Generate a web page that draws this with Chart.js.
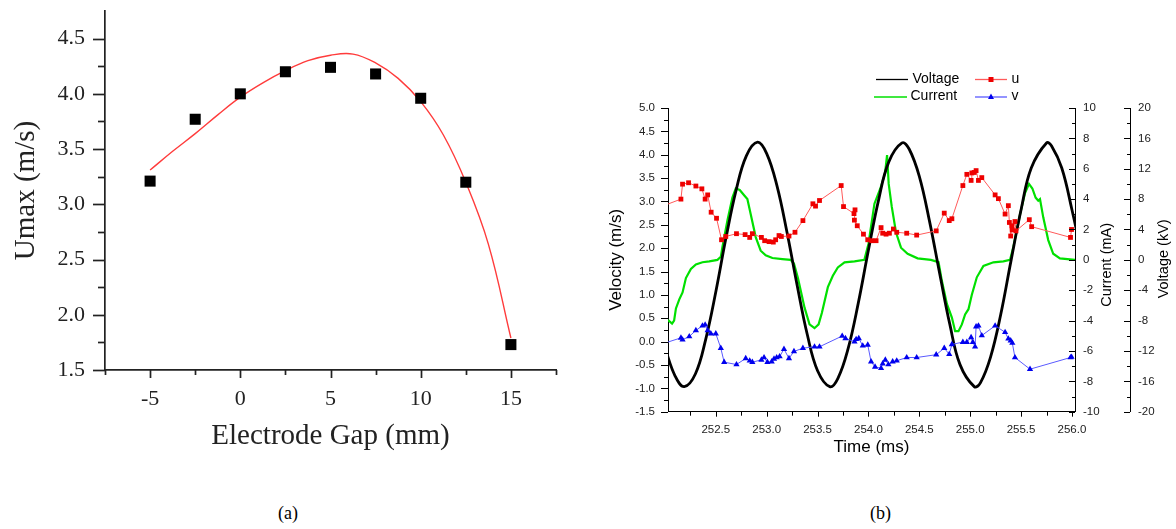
<!DOCTYPE html>
<html>
<head>
<meta charset="utf-8">
<title>Electrode gap and plasma actuator velocity</title>
<script src="https://cdn.jsdelivr.net/npm/chart.js@4/dist/chart.umd.min.js"></script>
<style>
  html, body { margin: 0; padding: 0; background: #fff; width: 1176px; height: 529px; overflow: hidden; }
  .panel { position: absolute; }
  #pa { left: 0; top: 0; width: 580px; height: 470px; }
  #pb { left: 600px; top: 60px; width: 576px; height: 400px; }
  .cap { position: absolute; font-family: "Liberation Serif", "Times New Roman", serif; font-size: 18px; color: #000; }
</style>
</head>
<body>
<div class="panel" id="pa"><canvas id="ca"></canvas></div>
<div class="panel" id="pb"><canvas id="cb"></canvas></div>
<div class="cap" style="left:278px; top:503px;">(a)</div>
<div class="cap" style="left:870px; top:503px;">(b)</div>

<script>
// ---------- (a) peak velocity against electrode gap ----------
const GAP_MM = [-5, -2.5, 0, 2.5, 5, 7.5, 10, 12.5, 15];
const UMAX = [3.21, 3.77, 4.00, 4.20, 4.24, 4.18, 3.96, 3.20, 1.73];
// fitted trend line
const FIT_GAP = [-5, -3.75, -2.5, -1.25, 0, 1.25, 2.5, 3.75, 5, 6.25, 7.5, 8.75, 10, 11.25, 12.5, 13.75, 15];
const FIT_UMAX = [3.31, 3.48, 3.64, 3.81, 3.97, 4.10, 4.21, 4.30, 4.35, 4.36, 4.28, 4.14, 3.93, 3.63, 3.20, 2.64, 1.79];
const GAP_TICKS = [-5, 0, 5, 10, 15];
const UMAX_TICKS = [1.5, 2.0, 2.5, 3.0, 3.5, 4.0, 4.5];

// ---------- (b) time traces ----------
const VOLT_T = [252.0, 252.1, 252.19, 252.3, 252.4, 252.5, 252.6, 252.7, 252.8, 252.91, 253.0, 253.1, 253.2, 253.3,
  253.4, 253.5, 253.62, 253.7, 253.8, 253.9, 254.0, 254.1, 254.2, 254.33, 254.4, 254.5, 254.6, 254.7, 254.8, 254.9,
  255.04, 255.1, 255.2, 255.3, 255.4, 255.5, 255.6, 255.75, 255.8, 255.9, 256.0, 256.1];
const VOLT_KV = [-11.6, -15.3, -16.7, -15.0, -10.5, -4.2, 2.9, 9.2, 13.7, 15.5, 14.0, 9.8, 3.6, -3.4,
  -9.9, -14.6, -16.7, -15.6, -11.7, -5.7, 1.3, 7.9, 12.9, 15.4, 14.6, 11.0, 5.1, -1.8, -8.5, -13.8,
  -16.7, -16.2, -12.8, -7.2, -0.2, 6.6, 12.1, 15.4, 15.0, 12.1, 6.6, 0.4];

const CUR_T = [252.0, 252.036, 252.07, 252.09, 252.108, 252.141, 252.173, 252.206, 252.255, 252.304, 252.369, 252.435,
  252.516, 252.549, 252.565, 252.614, 252.663, 252.696, 252.735, 252.778, 252.81, 252.843, 252.892, 252.941, 252.99,
  253.056, 253.154, 253.235, 253.268, 253.307, 253.372, 253.421, 253.47, 253.51, 253.542, 253.601, 253.65, 253.699,
  253.765, 253.863, 253.96, 254.0, 254.059, 254.117, 254.163, 254.183, 254.199, 254.229, 254.271, 254.32, 254.385,
  254.483, 254.614, 254.689, 254.722, 254.771, 254.82, 254.852, 254.885, 254.918, 254.95, 254.983, 255.016, 255.065,
  255.13, 255.228, 255.326, 255.392, 255.424, 255.49, 255.539, 255.578, 255.611, 255.643, 255.669, 255.686, 255.718,
  255.767, 255.816, 255.882, 256.032, 256.1];
const CUR_MA = [-4.0, -4.0, -4.2, -4.0, -3.2, -2.6, -2.15, -1.2, -0.6, -0.3, -0.16, -0.1,
  0.0, 0.2, 0.85, 2.6, 4.1, 4.7, 4.6, 4.25, 4.0, 3.0, 1.5, 0.6, 0.3,
  0.12, 0.05, 0.0, -0.25, -1.2, -3.15, -4.25, -4.5, -4.25, -3.5, -1.8, -1.05, -0.5,
  -0.16, -0.1, 0.0, 1.05, 3.7, 4.7, 5.7, 6.9, 5.0, 3.5, 1.8, 0.8, 0.4,
  0.1, 0.0, -0.15, -1.4, -2.9, -3.8, -4.7, -4.7, -4.25, -3.6, -3.25, -2.3, -1.15,
  -0.4, -0.16, -0.1, 0.0, 0.85, 3.0, 4.4, 5.0, 4.7, 4.1, 3.9, 4.0, 2.8,
  1.3, 0.4, 0.1, 0.0, 0.0];

const U_T = [252.0, 252.157, 252.173, 252.232, 252.304, 252.363, 252.395, 252.42, 252.454, 252.507, 252.556, 252.598,
  252.703, 252.788, 252.833, 252.859, 252.948, 252.98, 253.023, 253.065, 253.088, 253.121, 253.144, 253.219, 253.278,
  253.356, 253.454, 253.48, 253.519, 253.732, 253.755, 253.858, 253.868, 253.862, 253.89, 253.951, 253.993, 254.033,
  254.075, 254.124, 254.14, 254.173, 254.206, 254.245, 254.278, 254.376, 254.474, 254.666, 254.745, 254.794, 254.82,
  254.928, 254.967, 255.009, 255.016, 255.039, 255.058, 255.081, 255.114, 255.245, 255.277, 255.343, 255.375, 255.385,
  255.398, 255.411, 255.414, 255.44, 255.45, 255.581, 255.604, 255.986, 255.996];
const U_MS = [2.92, 3.05, 3.37, 3.40, 3.33, 3.27, 3.05, 3.14, 2.77, 2.64, 2.18, 2.25,
  2.31, 2.29, 2.23, 2.31, 2.23, 2.16, 2.14, 2.13, 2.18, 2.27, 2.25, 2.26, 2.34,
  2.59, 2.95, 2.90, 3.02, 3.34, 2.89, 2.74, 2.82, 2.60, 2.48, 2.30, 2.18, 2.16,
  2.16, 2.44, 2.32, 2.30, 2.32, 2.41, 2.34, 2.32, 2.28, 2.37, 2.75, 2.59, 2.63,
  3.34, 3.58, 3.45, 3.61, 3.62, 3.66, 3.45, 3.51, 3.14, 3.06, 2.73, 2.91, 2.55,
  2.26, 2.48, 2.39, 2.57, 2.37, 2.61, 2.46, 2.23, 2.40];

const V_T = [252.0, 252.157, 252.173, 252.239, 252.304, 252.369, 252.395, 252.42, 252.451, 252.5, 252.549, 252.582,
  252.703, 252.794, 252.833, 252.859, 252.948, 252.974, 253.007, 253.049, 253.072, 253.098, 253.127, 253.17, 253.219,
  253.268, 253.356, 253.47, 253.519, 253.742, 253.774, 253.863, 253.879, 253.905, 253.944, 253.993, 254.026, 254.065,
  254.124, 254.14, 254.166, 254.196, 254.238, 254.278, 254.376, 254.474, 254.666, 254.745, 254.794, 254.82, 254.928,
  254.967, 255.009, 255.026, 255.048, 255.058, 255.081, 255.114, 255.245, 255.343, 255.375, 255.398, 255.414, 255.44,
  255.588, 255.986, 255.996];
const V_MS = [-0.03, 0.08, 0.04, 0.11, 0.24, 0.34, 0.36, 0.24, 0.17, 0.17, -0.14, -0.44,
  -0.49, -0.36, -0.41, -0.44, -0.39, -0.34, -0.44, -0.43, -0.37, -0.34, -0.32, -0.16, -0.36,
  -0.21, -0.14, -0.11, -0.11, 0.12, 0.07, 0.0, 0.05, 0.07, -0.09, -0.07, -0.43, -0.54,
  -0.57, -0.47, -0.39, -0.49, -0.43, -0.41, -0.34, -0.34, -0.28, -0.14, -0.27, -0.06, -0.01,
  -0.01, 0.09, -0.01, -0.11, 0.32, 0.34, 0.13, 0.34, 0.20, 0.06, 0.02, -0.03, -0.34,
  -0.59, -0.34, -0.33];

const TIME_TICKS = [252.5, 253.0, 253.5, 254.0, 254.5, 255.0, 255.5, 256.0];
const VEL_TICKS = [-1.5, -1.0, -0.5, 0.0, 0.5, 1.0, 1.5, 2.0, 2.5, 3.0, 3.5, 4.0, 4.5, 5.0];
const CUR_TICKS = [-10, -8, -6, -4, -2, 0, 2, 4, 6, 8, 10];
const KV_TICKS = [-20, -16, -12, -8, -4, 0, 4, 8, 12, 16, 20];

// ---------- helpers ----------
const pts = (xs, ys) => xs.map((x, i) => ({ x: x, y: ys[i] }));
const steps = (a, b, step) => {
  const out = [];
  for (let k = 0; a + k * step <= b + 1e-9; k++) out.push(+(a + k * step).toFixed(4));
  return out;
};
const fixWidth = w => s => { s.width = w; s.paddingTop = 0; s.paddingBottom = 0; };
const fixHeight = h => s => { s.height = h; s.paddingLeft = 0; s.paddingRight = 0; };
const setTicks = list => s => { s.ticks = list.map(v => ({ value: v })); };

// Draws major/minor tick marks on the given scales; dir -1 = towards smaller pixel
function tickMarksPlugin(marks) {
  return {
    id: 'tickMarks',
    afterDraw(chart) {
      const ctx = chart.ctx;
      ctx.save();
      marks.forEach(m => {
        const s = chart.scales[m.scale];
        ctx.strokeStyle = m.color;
        ctx.lineWidth = m.width;
        const draw = (vals, len) => vals.forEach(v => {
          const p = Math.round(s.getPixelForValue(v)) + 0.5;
          ctx.beginPath();
          if (s.isHorizontal()) {
            ctx.moveTo(p, s.top);
            ctx.lineTo(p, s.top + len * m.dir);
          } else {
            const x0 = s.position === 'left' ? s.right : s.left;
            ctx.moveTo(x0, p);
            ctx.lineTo(x0 + len * m.dir, p);
          }
          ctx.stroke();
        });
        draw(m.major, m.majorLen);
        draw(m.minor, m.minorLen);
      });
      ctx.restore();
    }
  };
}

Chart.defaults.animation = false;
Chart.defaults.responsive = true;
Chart.defaults.maintainAspectRatio = false;
Chart.defaults.plugins.legend.display = false;
Chart.defaults.plugins.tooltip.enabled = false;

const SERIF = '"Liberation Serif", "Times New Roman", serif';
const SANS = '"Liberation Sans", Arial, sans-serif';

// ---------- chart (a) ----------
new Chart(document.getElementById('ca'), {
  type: 'line',
  data: {
    datasets: [
      {
        label: 'Umax',
        data: pts(GAP_MM, UMAX),
        showLine: false,
        pointStyle: 'rect',
        pointRadius: 7.8,
        pointBackgroundColor: '#000',
        pointBorderColor: '#000',
        pointBorderWidth: 0,
        order: 0,
        clip: false
      },
      {
        label: 'Fit',
        data: pts(FIT_GAP, FIT_UMAX),
        borderColor: '#ff3b3b',
        borderWidth: 1.4,
        pointRadius: 0,
        tension: 0.4,
        order: 1,
        clip: false
      }
    ]
  },
  options: {
    layout: { padding: { left: 0, top: 11, right: 24, bottom: 0 } },
    scales: {
      x: {
        type: 'linear', position: 'bottom', min: -7.5, max: 17.5,
        afterFit: fixHeight(100), afterBuildTicks: setTicks(GAP_TICKS),
        grid: { display: false, drawTicks: false },
        border: { display: true, color: '#222', width: 1.7 },
        ticks: { font: { family: SERIF, size: 22 }, color: '#222', padding: 16, maxRotation: 0,
                 callback: v => String(v) },
        title: { display: true, text: 'Electrode Gap (mm)', font: { family: SERIF, size: 29 }, color: '#222',
                 padding: { top: 0, bottom: 16 } }
      },
      y: {
        type: 'linear', position: 'left', min: 1.5, max: 4.75,
        afterFit: fixWidth(105), afterBuildTicks: setTicks(UMAX_TICKS),
        grid: { display: false, drawTicks: false },
        border: { display: true, color: '#222', width: 1.7 },
        ticks: { font: { family: SERIF, size: 22 }, color: '#222', padding: 20,
                 callback: v => v.toFixed(1) },
        title: { display: true, text: 'Umax (m/s)', font: { family: SERIF, size: 29 }, color: '#222',
                 padding: { top: 9, bottom: 0 } }
      }
    }
  },
  plugins: [tickMarksPlugin([
    { scale: 'x', major: GAP_TICKS, minor: [-7.5, -2.5, 2.5, 7.5, 12.5, 17.5], majorLen: 8, minorLen: 5,
      dir: 1, color: '#222', width: 1.7 },
    { scale: 'y', major: UMAX_TICKS, minor: steps(1.75, 4.25, 0.5), majorLen: 12, minorLen: 7,
      dir: -1, color: '#222', width: 1.7 }
  ])]
});

// ---------- chart (b) ----------
const RED = '#ee0000', RED_LINE = '#ff5a5a';
const BLUE = '#0000ee', BLUE_LINE = '#5a5aff';
const GREEN = '#00e000';
const clipLR = { left: 0, right: 0, top: false, bottom: false };
const clipMarks = { left: 0, right: 5, top: false, bottom: false };

// legend drawn as two columns above the plot
const legendB = {
  id: 'legendB',
  afterDraw(chart) {
    const ctx = chart.ctx;
    ctx.save();
    ctx.font = '14px ' + SANS;
    ctx.textBaseline = 'middle';
    const items = [
      { ds: 2, x0: 276, x1: 308, tx: 312.5, y: 19 },
      { ds: 3, x0: 274, x1: 307, tx: 310.5, y: 36.5 },
      { ds: 0, x0: 375, x1: 407, tx: 411.5, y: 19 },
      { ds: 1, x0: 375, x1: 407, tx: 411.5, y: 36.5 }
    ];
    items.forEach(it => {
      const d = chart.data.datasets[it.ds];
      ctx.strokeStyle = d.borderColor;
      ctx.lineWidth = 1.3;
      ctx.beginPath();
      ctx.moveTo(it.x0, it.y + 0.5);
      ctx.lineTo(it.x1, it.y + 0.5);
      ctx.stroke();
      const cx = (it.x0 + it.x1) / 2;
      if (d.pointStyle === 'rect') {
        ctx.fillStyle = d.pointBackgroundColor;
        ctx.fillRect(cx - 2.5, it.y - 2, 5, 5);
      } else if (d.pointStyle === 'triangle') {
        ctx.fillStyle = d.pointBackgroundColor;
        ctx.beginPath();
        ctx.moveTo(cx, it.y - 3);
        ctx.lineTo(cx + 3, it.y + 2.5);
        ctx.lineTo(cx - 3, it.y + 2.5);
        ctx.closePath();
        ctx.fill();
      }
      ctx.fillStyle = '#000';
      ctx.fillText(d.label, it.tx, it.y);
    });
    ctx.restore();
  }
};

// titles of the two right-hand axes, reading upwards
const sideTitles = {
  id: 'sideTitles',
  afterDraw(chart) {
    const ctx = chart.ctx;
    const area = chart.chartArea;
    const mid = (area.top + area.bottom) / 2;
    const put = (text, x, y) => {
      ctx.save();
      ctx.translate(x, y);
      ctx.rotate(-Math.PI / 2);
      ctx.font = '14.5px ' + SANS;
      ctx.fillStyle = '#000';
      ctx.textAlign = 'center';
      ctx.textBaseline = 'middle';
      ctx.fillText(text, 0, 0);
      ctx.restore();
    };
    put('Current (mA)', chart.scales.yCur.left + 31.5, mid + 5);
    put('Voltage (kV)', chart.scales.yV.left + 34, mid - 1);
  }
};

new Chart(document.getElementById('cb'), {
  type: 'line',
  data: {
    datasets: [
      {
        label: 'u', data: pts(U_T, U_MS), yAxisID: 'y',
        borderColor: RED_LINE, borderWidth: 1,
        pointStyle: 'rect', pointRadius: 3.4, pointBackgroundColor: RED, pointBorderColor: RED, pointBorderWidth: 0,
        order: 0, clip: clipMarks
      },
      {
        label: 'v', data: pts(V_T, V_MS), yAxisID: 'y',
        borderColor: BLUE_LINE, borderWidth: 1,
        pointStyle: 'triangle', pointRadius: 3.6, pointBackgroundColor: BLUE, pointBorderColor: BLUE, pointBorderWidth: 0,
        order: 1, clip: clipMarks
      },
      {
        label: 'Voltage', data: pts(VOLT_T, VOLT_KV), yAxisID: 'yV',
        borderColor: '#000', borderWidth: 2.8, pointRadius: 0, tension: 0.4,
        order: 2, clip: clipLR
      },
      {
        label: 'Current', data: pts(CUR_T, CUR_MA), yAxisID: 'yCur',
        borderColor: GREEN, borderWidth: 2.2, pointRadius: 0, tension: 0,
        order: 3, clip: clipLR
      }
    ]
  },
  options: {
    layout: { padding: { left: 0, top: 48, right: 0, bottom: 0 } },
    scales: {
      x: {
        type: 'linear', position: 'bottom', min: 252.03, max: 256.03,
        afterFit: fixHeight(48.3), afterBuildTicks: setTicks(TIME_TICKS),
        grid: { display: false, drawTicks: false },
        border: { display: true, color: '#000', width: 1 },
        ticks: { font: { family: SANS, size: 11.5 }, color: '#222', padding: 11.5, maxRotation: 0,
                 callback: v => v.toFixed(1) },
        title: { display: true, text: 'Time (ms)', font: { family: SANS, size: 17 }, color: '#000',
                 padding: { top: 0, bottom: 2 } }
      },
      y: {
        type: 'linear', position: 'left', min: -1.5, max: 5.0,
        afterFit: fixWidth(68), afterBuildTicks: setTicks(VEL_TICKS),
        grid: { display: false, drawTicks: false },
        border: { display: true, color: '#000', width: 1 },
        ticks: { font: { family: SANS, size: 11.5 }, color: '#222', padding: 13,
                 callback: v => v.toFixed(1) },
        title: { display: true, text: 'Velocity (m/s)', font: { family: SANS, size: 17 }, color: '#000',
                 padding: { top: 6.3, bottom: 0 } }
      },
      yCur: {
        type: 'linear', position: 'right', min: -10, max: 10,
        afterFit: fixWidth(55), afterBuildTicks: setTicks(CUR_TICKS),
        grid: { display: false, drawTicks: false },
        border: { display: true, color: '#000', width: 1 },
        ticks: { font: { family: SANS, size: 11.5 }, color: '#222', padding: 8, callback: v => String(v) }
      },
      yV: {
        type: 'linear', position: 'right', min: -20, max: 20,
        afterFit: fixWidth(46), afterBuildTicks: setTicks(KV_TICKS),
        grid: { display: false, drawTicks: false },
        border: { display: true, color: '#000', width: 1 },
        ticks: { font: { family: SANS, size: 11.5 }, color: '#222', padding: 8, callback: v => String(v) }
      }
    }
  },
  plugins: [
    tickMarksPlugin([
      { scale: 'x', major: TIME_TICKS, minor: steps(252.25, 255.75, 0.5), majorLen: 5, minorLen: 4,
        dir: 1, color: '#000', width: 1 },
      { scale: 'y', major: VEL_TICKS, minor: steps(-1.25, 4.75, 0.5), majorLen: 7, minorLen: 4,
        dir: -1, color: '#000', width: 1 },
      { scale: 'yCur', major: CUR_TICKS, minor: steps(-9, 9, 2), majorLen: 6, minorLen: 3,
        dir: -1, color: '#000', width: 1 },
      { scale: 'yV', major: KV_TICKS, minor: steps(-18, 18, 4), majorLen: 6, minorLen: 3,
        dir: -1, color: '#000', width: 1 }
    ]),
    legendB,
    sideTitles
  ]
});
</script>
</body>
</html>
